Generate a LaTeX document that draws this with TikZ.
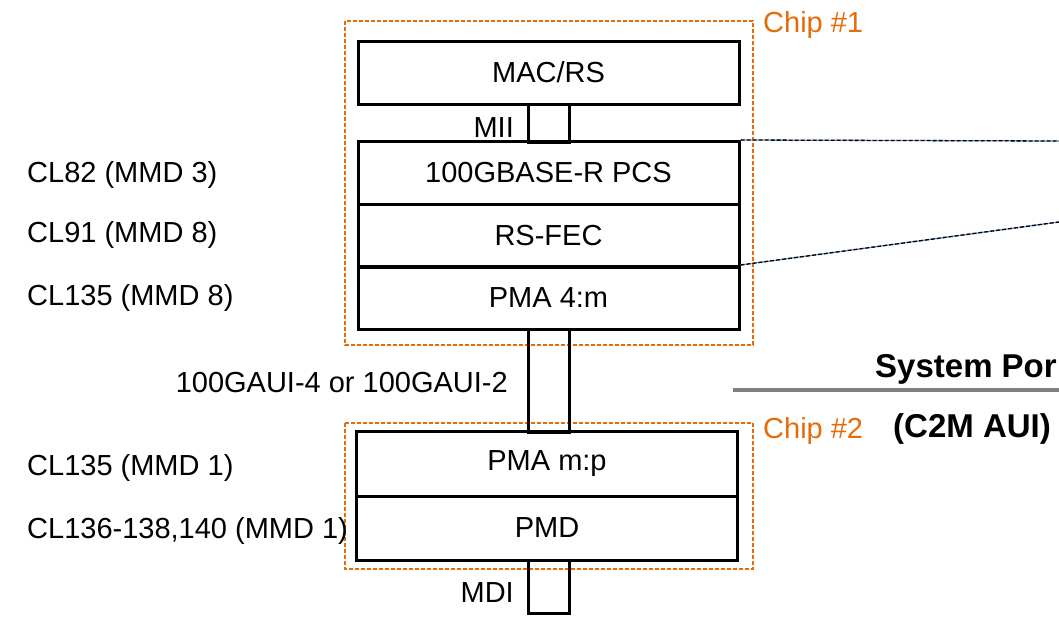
\documentclass[tikz,border=0pt]{standalone}
\usepackage{fontspec}
\setmainfont{Liberation Sans}
\usetikzlibrary{calc}

\definecolor{chiporange}{RGB}{228,108,10}
\definecolor{zoomblue}{RGB}{120,160,210}

\begin{document}
\begin{tikzpicture}[
  x=1pt, y=-1pt,
  layer/.style={
    draw,
    rectangle,
    line width=3pt,
    minimum width=381pt,
    minimum height=63pt,
    inner sep=0pt,
    font=\fontsize{29}{33}\selectfont
  },
  port/.style={
    draw,
    rectangle,
    line width=3pt,
    minimum width=41pt,
    inner sep=0pt
  },
  lbl/.style={anchor=base west, inner sep=0pt, font=\fontsize{29}{33}\selectfont},
  rlbl/.style={lbl, anchor=base east},
  bold/.style={lbl, font=\fontsize{33}{37}\selectfont\bfseries},
  chipbox/.style={draw=chiporange, line width=1.5pt, dash pattern=on 4pt off 2pt},
  chiplbl/.style={lbl, text=chiporange},
  zoomline/.style={
    draw=black,
    line width=1.3pt,
    dash pattern=on 4pt off 2pt,
    preaction={draw=zoomblue, solid, line width=1.3pt}
  },
  rule/.style={draw=gray, line width=4pt}
]
\useasboundingbox (0,0) rectangle (1059,616);

% --- Chip outlines ---
\draw[chipbox] (345,21)  rectangle (753,345);
\draw[chipbox] (345,423) rectangle (753,569);
\node[chiplbl] (chipA) at (763,32)  {Chip \#1};
\node[chiplbl] (chipB) at (763,438) {Chip \#2};

% --- Ports between layers ---
\node[port, minimum height=38pt]  (mii) at (548.5,123)   {};
\node[port, minimum height=103pt] (aui) at (548.5,380.5) {};
\node[port, minimum height=53pt]  (mdi) at (548.5,586.5) {};

% --- Chip #1 layers ---
\node[layer] (mac) at (548.5,72.5)  {MAC/RS};
\node[layer] (pcs) at (548.5,173)   {100GBASE-R PCS};
\node[layer] (fec) at (548.5,235.5) {RS-FEC};
\node[layer] (pmaA) at (548.5,298)  {PMA 4:m};

% --- Chip #2 layers ---
\node[layer, minimum height=65pt] (pmaB) at (547,464) {PMA m:p};
\node[layer, minimum height=64pt] (pmd)  at (547,528) {PMD};

% --- Interface labels ---
\node[rlbl] (miiL) at (514,137) {MII};
\node[rlbl] (auiL) at (508,392) {100GAUI-4 or 100GAUI-2};
\node[rlbl] (mdiL) at (514,602) {MDI};

% --- Clause labels ---
\node[lbl] (cl82)   at (27,182) {CL82 (MMD 3)};
\node[lbl] (cl91)   at (27,242) {CL91 (MMD 8)};
\node[lbl] (cl135a) at (27,305) {CL135 (MMD 8)};
\node[lbl] (cl135b) at (27,475) {CL135 (MMD 1)};
\node[lbl] (cl136)  at (27,538) {CL136-138,140 (MMD 1)};

% --- Zoom lines to the right ---
\coordinate (zoomA) at (1059,141);
\coordinate (zoomB) at (1059,222);
\draw[zoomline] (pcs.north east) -- (zoomA);
\draw[zoomline] (pmaA.north east) -- (zoomB);

% --- System port side ---
\node[bold] (sysport) at (875,377) {System Por};
\coordinate (ruleL) at (733,390);
\coordinate (ruleR) at (1059,390);
\draw[rule] (ruleL) -- (ruleR);
\node[bold] (c2m) at (893,437) {(C2M AUI)};

\end{tikzpicture}
\end{document}
